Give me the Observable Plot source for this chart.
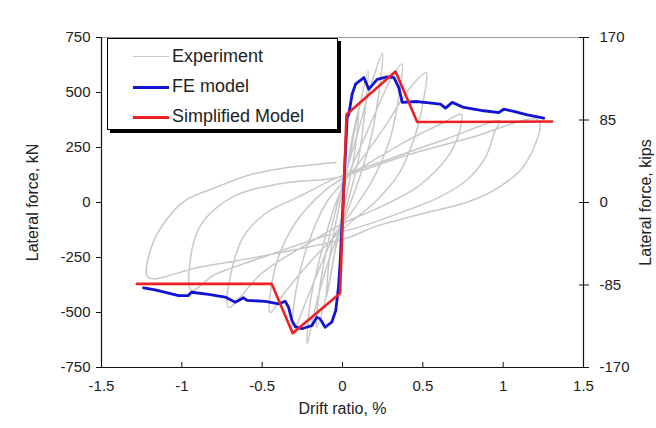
<!DOCTYPE html>
<html>
<head>
<meta charset="utf-8">
<script src="https://cdn.jsdelivr.net/npm/d3@7"></script>
<script src="https://cdn.jsdelivr.net/npm/@observablehq/plot@0.6"></script>
<style>
  html, body { margin: 0; padding: 0; background: #fff; }
  #wrap { position: relative; width: 656px; height: 428px; font-family: "Liberation Sans", Arial, sans-serif; }
  #legend { position: absolute; left: 107px; top: 38px; width: 229px; height: 90px; border: 1.5px solid #000; box-shadow: 3px 3px 0 #000; background: #fff; }
  .row { position: absolute; left: 0; height: 20px; }
  .sw { position: absolute; left: 25px; width: 36px; top: 9px; height: 0; }
  .lbl { position: absolute; left: 64px; top: -2px; font-size: 18px; color: #222; white-space: nowrap; }
</style>
</head>
<body>
<div id="wrap"></div>
<script>
// Tick labels
const driftTicks = [-1.5, -1, -0.5, 0, 0.5, 1, 1.5];
const kNTicks = [-750, -500, -250, 0, 250, 500, 750];
const kipsTicks = [-170, -85, 0, 85, 170];
const seriesNames = ["Experiment", "FE model", "Simplified Model"];

// Experiment (gray hysteresis), drift ratio % and lateral force kN
const expDrift = [0, 0.05, 0.1,
  0.08, 0.03, -0.03, -0.07, -0.1,
  -0.08, -0.03, 0.03, 0.09, 0.16,
  0.14, 0.1, 0.04, -0.04, -0.1, -0.16,
  -0.14, -0.08, 0.0, 0.1, 0.18, 0.25,
  0.23, 0.18, 0.1, 0.02, -0.08, -0.17, -0.22,
  -0.2, -0.14, -0.05, 0.05, 0.2, 0.3, 0.37,
  0.35, 0.3, 0.2, 0.08, -0.05, -0.2, -0.31,
  -0.29, -0.22, -0.1, 0.05, 0.25, 0.42, 0.52,
  0.5, 0.45, 0.35, 0.2, 0.05, -0.15, -0.35, -0.45,
  -0.42, -0.3, -0.1, 0.1, 0.4, 0.62, 0.74,
  0.73, 0.68, 0.6, 0.46, 0.19, 0.04, -0.2, -0.5, -0.71,
  -0.63, -0.48, -0.28, -0.03, 0.3, 0.65, 0.98,
  0.95, 0.89, 0.77, 0.6, 0.4, 0.1, -0.1, -0.5, -0.8, -0.94,
  -0.9, -0.69, -0.38, -0.03, 0.4, 0.8, 1.22,
  1.14, 0.97, 0.77, 0.5, 0.19, 0.04, -0.48, -0.9, -1.21,
  -1.19, -1.10, -0.98, -0.79, -0.59, -0.38, -0.04];
const expForce = [0, 250, 420,
  250, 50, -150, -320, -430,
  -250, -50, 150, 380, 600,
  420, 200, 20, -200, -420, -568,
  -380, -150, 80, 330, 540, 680,
  520, 300, 100, -60, -250, -480, -641,
  -450, -250, -20, 150, 400, 560, 630,
  480, 300, 120, -20, -150, -400, -590,
  -400, -200, 0, 130, 330, 520, 590,
  450, 300, 130, 0, -90, -230, -400, -500,
  -300, -100, 60, 150, 280, 360, 400,
  327, 236, 159, 68, -36, -82, -180, -320, -477,
  -173, -50, 23, 114, 200, 290, 370,
  327, 205, 100, 23, -36, -113, -150, -250, -330, -400,
  -127, 23, 86, 114, 215, 295, 373,
  177, 68, 0, -50, -113, -159, -241, -295, -340,
  -204, -82, 9, 68, 123, 155, 182];

// FE model (blue)
const feDrift = [-1.238, -1.166, -1.02, -0.96, -0.94, -0.834, -0.73, -0.668, -0.616, -0.595, -0.48, -0.398, -0.357, -0.336, -0.315, -0.294, -0.253, -0.19, -0.16, -0.139, -0.108, -0.067, -0.042, -0.025, -0.014, 0.029, 0.039, 0.06, 0.081, 0.133, 0.164, 0.216, 0.278, 0.32, 0.35, 0.372, 0.465, 0.61, 0.641, 0.683, 0.755, 0.88, 0.973, 1.004, 1.066, 1.15, 1.253];
const feForce = [-388, -397, -423, -423, -408, -418, -430, -453, -433, -445, -449, -461, -449, -476, -536, -564, -574, -559, -521, -529, -567, -544, -491, -385, -264, 388, 401, 492, 538, 568, 515, 560, 571, 568, 523, 455, 459, 447, 429, 455, 432, 417, 409, 424, 414, 398, 383];

// Simplified model (red)
const simDrift = [-1.28, -0.44, -0.31, -0.015, 0.025, 0.33, 0.465, 1.305];
const simForce = [-370, -370, -594, -412, 400, 595, 366, 368];

const exp = expDrift.map((x, i) => ({x, y: expForce[i]}));
const fe = feDrift.map((x, i) => ({x, y: feForce[i]}));
const sim = simDrift.map((x, i) => ({x, y: simForce[i]}));
const kipsToKN = 750 / 170;
const kipsPos = kipsTicks.map(k => k * kipsToKN);

const chart = Plot.plot({
  width: 656,
  height: 428,
  marginLeft: 101,
  marginRight: 73,
  marginTop: 37,
  marginBottom: 61,
  x: {domain: [driftTicks[0], driftTicks[driftTicks.length - 1]]},
  y: {domain: [kNTicks[0], kNTicks[kNTicks.length - 1]]},
  style: {fontFamily: "'Liberation Sans', Arial, sans-serif", fontSize: "15px", color: "#222", background: "#fff"},
  marks: [
    Plot.line(exp, {x: "x", y: "y", stroke: "#c8c8c8", strokeWidth: 1.5, curve: "catmull-rom"}),
    Plot.line(fe, {x: "x", y: "y", stroke: "#1212d6", strokeWidth: 2.8}),
    Plot.line(sim, {x: "x", y: "y", stroke: "#ee2024", strokeWidth: 2.6}),
    Plot.ruleY([kNTicks[kNTicks.length - 1]], {stroke: "#999", strokeWidth: 1}),
    Plot.ruleX([driftTicks[0], driftTicks[driftTicks.length - 1]], {stroke: "#111", strokeWidth: 1.2}),
    Plot.ruleY([kNTicks[0]], {stroke: "#111", strokeWidth: 1.2}),
    Plot.axisX(driftTicks, {anchor: "bottom", tickSize: 5, dy: -5, tickFormat: () => "", label: null, stroke: "#111"}),
    Plot.axisX(driftTicks, {anchor: "bottom", tickSize: 0, tickPadding: 13, tickFormat: d => String(d), label: null, fill: "#222"}),
    Plot.axisY(kNTicks, {anchor: "left", tickSize: 5, tickPadding: 6, tickFormat: d => String(d), label: null, stroke: "#111", fill: "#222"}),
    Plot.axisY(kipsPos, {anchor: "right", tickSize: 10, dx: -5, tickFormat: () => "", label: null, stroke: "#111"}),
    Plot.axisY(kipsPos, {anchor: "right", tickSize: 0, tickPadding: 16, tickFormat: (d, i) => String(kipsTicks[i]), label: null, fill: "#222"}),
    Plot.text(["Lateral force, kN"], {frameAnchor: "left", textAnchor: "middle", dx: -69, rotate: -90, fontSize: 16, fill: "#222"}),
    Plot.text(["Lateral force, kips"], {frameAnchor: "right", textAnchor: "middle", dx: 62, rotate: -90, fontSize: 16, fill: "#222"}),
    Plot.text(["Drift ratio, %"], {frameAnchor: "bottom", dy: 46, fontSize: 16, fill: "#222"})
  ]
});

const wrap = document.getElementById("wrap");
wrap.appendChild(chart);

const legendColors = ["#c8c8c8", "#1212d6", "#ee2024"];
const legendWidths = [1.5, 3, 3];
const legend = document.createElement("div");
legend.id = "legend";
seriesNames.forEach((name, i) => {
  const row = document.createElement("div");
  row.className = "row";
  row.style.top = (9 + i * 30) + "px";
  row.style.width = "100%";
  const sw = document.createElement("div");
  sw.className = "sw";
  sw.style.borderTop = legendWidths[i] + "px solid " + legendColors[i];
  sw.style.marginTop = (-legendWidths[i] / 2) + "px";
  const lb = document.createElement("div");
  lb.className = "lbl";
  lb.textContent = name;
  row.appendChild(sw);
  row.appendChild(lb);
  legend.appendChild(row);
});
wrap.appendChild(legend);
</script>
</body>
</html>
